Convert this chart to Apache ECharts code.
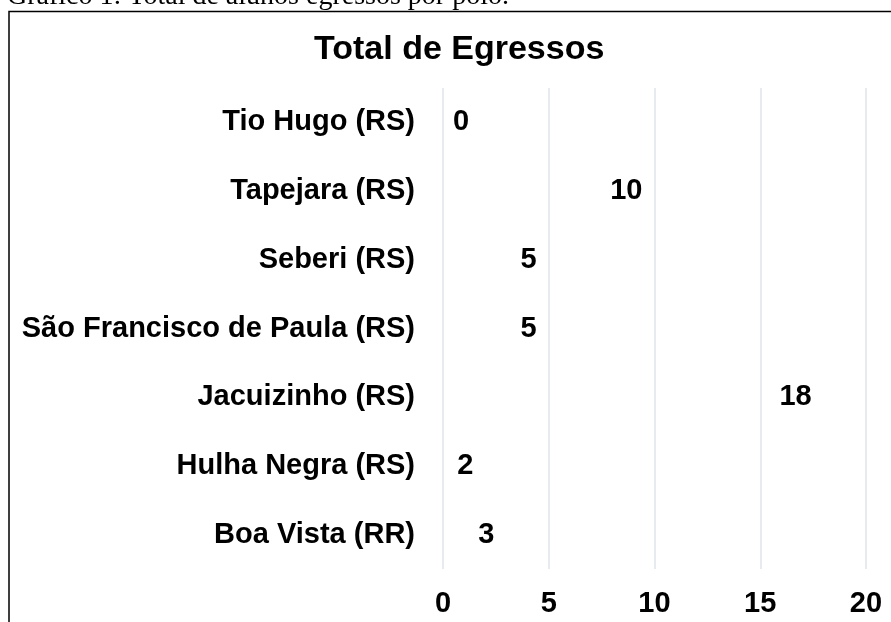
<!DOCTYPE html>
<html>
<head>
<meta charset="utf-8">
<script src="https://cdn.jsdelivr.net/npm/echarts@6/dist/echarts.min.js"></script>
<style>
html,body{margin:0;padding:0;background:#fff;}
#chart{width:891px;height:622px;}
</style>
</head>
<body>
<div id="chart"></div>
<script>
const categories = ["Boa Vista (RR)", "Hulha Negra (RS)", "Jacuizinho (RS)", "São Francisco de Paula (RS)", "Seberi (RS)", "Tapejara (RS)", "Tio Hugo (RS)"];
const values = [3, 2, 18, 5, 5, 10, 0];
const xTicks = [0, 5, 10, 15, 20];
const titleText = "Total de Egressos";
const captionText = "Gráfico 1: Total de alunos egressos por polo.";

const chart = echarts.init(document.getElementById('chart'), null, {renderer: 'canvas'});
const font = "'Liberation Sans', Arial, sans-serif";
const seriesData = values.map(v => v === 0
  ? {value: v, label: {position: 'right', distance: 10}}
  : {value: v});

chart.setOption({
  animation: false,
  backgroundColor: '#fff',
  title: {
    text: titleText,
    left: 309,
    top: 28,
    textStyle: {fontFamily: font, fontSize: 34, fontWeight: 'bold', color: '#000'}
  },
  grid: {left: 443, right: 25, top: 88, bottom: 53, containLabel: false},
  xAxis: {
    type: 'value',
    min: xTicks[0],
    max: xTicks[xTicks.length - 1],
    interval: 5,
    axisLine: {show: false},
    axisTick: {show: false},
    splitLine: {show: true, lineStyle: {color: '#dfe3ea', width: 1.5}},
    axisLabel: {margin: 20, fontFamily: font, fontSize: 29, fontWeight: 'bold', color: '#000'}
  },
  yAxis: {
    type: 'category',
    data: categories,
    axisLine: {show: false},
    axisTick: {show: false},
    axisLabel: {margin: 28, fontFamily: font, fontSize: 29, fontWeight: 'bold', color: '#000'}
  },
  series: [{
    type: 'bar',
    data: seriesData,
    barWidth: '60%',
    itemStyle: {color: 'rgba(0,0,0,0)'},
    label: {
      show: true,
      position: 'insideRight',
      distance: 12,
      fontFamily: font, fontSize: 29, fontWeight: 'bold', color: '#000'
    }
  }],
  graphic: [
    {
      type: 'rect',
      shape: {x: 9, y: 11.5, width: 900, height: 700},
      style: {fill: 'none', stroke: '#000', lineWidth: 1.5},
      z: 100
    },
    {
      type: 'text',
      style: {
        x: 7, y: -3,
        text: captionText,
        font: "28px 'Liberation Serif', 'Times New Roman', serif",
        fill: '#000',
        verticalAlign: 'middle',
        align: 'left'
      },
      z: 100
    }
  ]
});
</script>
</body>
</html>
